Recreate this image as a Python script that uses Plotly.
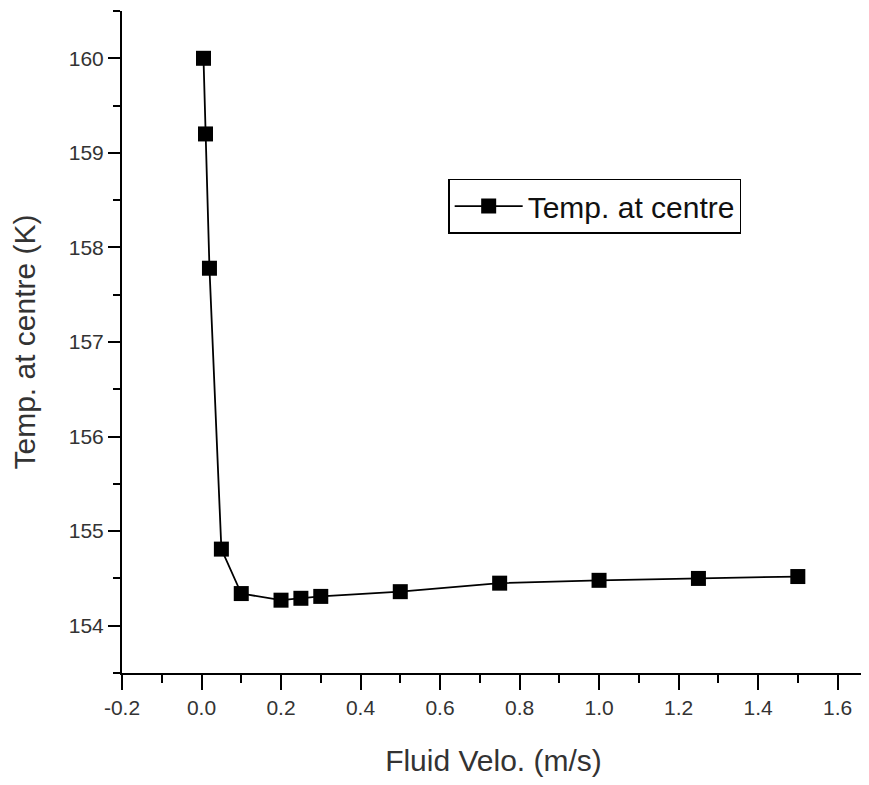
import plotly.graph_objects as go

# Data
velocity = [0.005, 0.01, 0.02, 0.05, 0.1, 0.2, 0.25, 0.3, 0.5, 0.75, 1.0, 1.25, 1.5]
temp_centre = [160.0, 159.2, 157.78, 154.81, 154.34, 154.27, 154.29, 154.31, 154.36, 154.45, 154.48, 154.50, 154.52]

x_tick_vals = [-0.2, 0.0, 0.2, 0.4, 0.6, 0.8, 1.0, 1.2, 1.4, 1.6]
x_tick_text = ["-0.2", "0.0", "0.2", "0.4", "0.6", "0.8", "1.0", "1.2", "1.4", "1.6"]
y_tick_vals = [154, 155, 156, 157, 158, 159, 160]
y_tick_text = ["154", "155", "156", "157", "158", "159", "160"]

series_name = "Temp. at centre"
x_title = "Fluid Velo. (m/s)"
y_title = "Temp. at centre (K)"

FONT = "Liberation Sans, Arial, sans-serif"

fig = go.Figure()
fig.add_trace(go.Scatter(
    x=velocity, y=temp_centre, mode="lines+markers", name=series_name,
    line=dict(color="black", width=1.8),
    marker=dict(symbol="square", size=15, color="black"),
))

fig.update_layout(
    width=861, height=777,
    margin=dict(l=114, r=4, t=3, b=112),
    paper_bgcolor="white", plot_bgcolor="white",
    font=dict(family=FONT, color="#333"),
    showlegend=True,
    legend=dict(
        x=0.439, y=0.7054, xanchor="left", yanchor="middle",
        bordercolor="black", borderwidth=1.5, bgcolor="white",
        font=dict(size=30, color="#111", family=FONT),
        itemwidth=68, tracegroupgap=0,
    ),
)

fig.update_xaxes(
    range=[-0.2, 1.669], tickmode="array", tickvals=x_tick_vals, ticktext=x_tick_text,
    showgrid=False, zeroline=False,
    showline=True, linecolor="black", linewidth=2,
    ticks="outside", ticklen=15, tickwidth=2, tickcolor="black",
    minor=dict(ticks="outside", ticklen=8, tickwidth=2, tickcolor="black",
               tickmode="linear", tick0=-0.1, dtick=0.2, showgrid=False),
    tickfont=dict(size=21, color="#333", family=FONT),
    title=dict(text=x_title, font=dict(size=30, color="#333", family=FONT), standoff=32),
    automargin=False,
)
fig.update_yaxes(
    range=[153.5, 160.5], tickmode="array", tickvals=y_tick_vals, ticktext=y_tick_text,
    showgrid=False, zeroline=False,
    showline=True, linecolor="black", linewidth=2,
    ticks="outside", ticklen=12, tickwidth=2, tickcolor="black",
    minor=dict(ticks="outside", ticklen=7, tickwidth=2, tickcolor="black",
               tickmode="linear", tick0=153.5, dtick=1, showgrid=False),
    tickfont=dict(size=21, color="#333", family=FONT),
    ticklabelstandoff=0,
    title=dict(text=y_title, font=dict(size=30, color="#333", family=FONT), standoff=28),
    automargin=False,
)

fig.write_html("out.html")
